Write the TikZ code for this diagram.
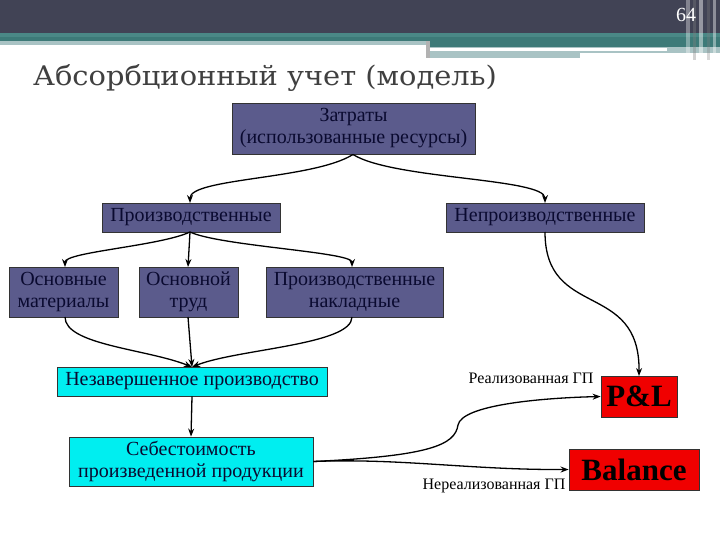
\documentclass[tikz,border=0pt]{standalone}
\usepackage{fontspec}
\setmainfont{Liberation Serif}
\newfontfamily\tnr{Liberation Serif}
\newfontfamily\ttl{DejaVu Serif}
\usetikzlibrary{arrows.meta}
\definecolor{hdark}{HTML}{414355}
\definecolor{hteal}{HTML}{4A8886}
\definecolor{hteald}{HTML}{3D7A78}
\definecolor{hlight}{HTML}{A9C3C4}
\definecolor{slate}{HTML}{5B5B8C}
\definecolor{navytext}{HTML}{0A0A30}
\definecolor{cyanbox}{HTML}{00EEF0}
\definecolor{redbox}{HTML}{F00000}
\definecolor{titlegray}{HTML}{404040}
\tikzset{
  bluebox/.style={draw=black!80, line width=0.8pt, fill=slate, text=navytext, align=center, inner sep=0pt, font=\tnr\fontsize{20}{22}\selectfont},
  cyanstyle/.style={draw=black!80, line width=0.8pt, fill=cyanbox, text=navytext, align=center, inner sep=0pt, font=\tnr\fontsize{20}{22}\selectfont},
  redstyle/.style={draw=black!80, line width=0.8pt, fill=redbox, text=black, align=center, inner sep=0pt, font=\tnr\fontsize{31}{33}\selectfont\bfseries},
  conn/.style={draw=black, line width=1.3pt, -{Stealth[length=8pt,width=6pt]}},
  lbl/.style={font=\tnr\fontsize{16}{18}\selectfont, text=black, inner sep=0pt}
}
\begin{document}
\begin{tikzpicture}[x=1pt,y=-1pt]
\useasboundingbox (0,0) rectangle (720,540);
\fill[white] (0,0) rectangle (720,540);
% header
\fill[hdark] (0,0) rectangle (720,33);
\fill[hteal] (0,33) rectangle (720,37);
\fill[hteald] (0,37) rectangle (720,41);
\fill[hlight] (0,41) rectangle (426,45);
\fill[hteald] (426,41) rectangle (720,47);
\fill[hlight] (426,47) rectangle (720,58);
\fill[white] (430,48.5) rectangle (667,51.5);
\fill[white] (580,53) rectangle (720,58);
\fill[gray!60] (426,41) rectangle (430,58);
\fill[white,opacity=0.35] (686,0) rectangle (690,60);
\fill[gray,opacity=0.35] (693,0) rectangle (696,60);
\fill[white,opacity=0.45] (699,0) rectangle (703,60);
\fill[gray,opacity=0.3] (707,0) rectangle (710,60);
\fill[white,opacity=0.4] (713,0) rectangle (716,60);
\node[text=white, font=\tnr\fontsize{20}{22}\selectfont, inner sep=0pt] (pg) at (686,15) {64};
% title
\node[anchor=west, text=titlegray, font=\ttl\fontsize{27}{30}\selectfont, inner sep=0pt] (title) at (33,78) {\scalebox{1.07}[1]{Абсорбционный учет (модель)}};
% boxes
\node[bluebox, minimum width=243pt, minimum height=51pt] (zat) at (353.5,128.5) {Затраты\\(использованные ресурсы)};
\node[bluebox, minimum width=178pt, minimum height=29pt] (prod) at (191,217.5) {Производственные};
\node[bluebox, minimum width=198pt, minimum height=29pt] (nprod) at (545,217.5) {Непроизводственные};
\node[bluebox, minimum width=109pt, minimum height=50pt] (mat) at (63.5,292) {Основные\\материалы};
\node[bluebox, minimum width=99pt, minimum height=50pt] (trud) at (188.5,292) {Основной\\труд};
\node[bluebox, minimum width=177pt, minimum height=50pt] (nakl) at (354.5,292) {Производственные\\накладные};
\node[cyanstyle, minimum width=270pt, minimum height=29pt] (nzp) at (192,381.5) {Незавершенное производство};
\node[cyanstyle, minimum width=244pt, minimum height=49pt] (seb) at (191,461.5) {Себестоимость\\произведенной продукции};
\node[redstyle, minimum width=76pt, minimum height=41pt] (pl) at (639,396.5) {P\&L};
\node[redstyle, minimum width=130pt, minimum height=41pt] (bal) at (634,469.5) {Balance};
% labels
\node[lbl] (lreal) at (531,378) {Реализованная ГП};
\node[lbl] (lnreal) at (494,486) {Нереализованная ГП};
% connectors
\coordinate (zs) at (353,154.5);
\coordinate (pn) at (190,203);
\coordinate (npn) at (545,203);
\draw[conn] (zs) .. controls +(-40,25) and +(0,-25) .. (pn);
\draw[conn] (zs) .. controls +(40,25) and +(0,-25) .. (npn);
\coordinate (ps) at (190,232);
\coordinate (mn) at (65,267);
\coordinate (tn) at (188,267);
\coordinate (kn) at (352,267);
\draw[conn] (ps) .. controls +(-30,14) and +(0,-15) .. (mn);
\draw[conn] (ps) -- (tn);
\draw[conn] (ps) .. controls +(30,14) and +(0,-15) .. (kn);
\coordinate (ms) at (65,317);
\coordinate (ts) at (188,317);
\coordinate (ks) at (352,317);
\coordinate (zn) at (192,367);
\draw[conn] (ms) .. controls +(0,28) and +(-45,-18) .. (zn);
\draw[conn] (ts) -- (zn);
\draw[conn] (ks) .. controls +(0,28) and +(45,-18) .. (zn);
\draw[conn] (nzp.south) -- (seb.north);
\draw[conn] (seb.east) .. controls (430,456) and (455,445) .. (458,425) .. controls (462,405) and (540,398) .. (pl.west);
\draw[conn] (seb.east) .. controls (400,458) and (470,470) .. (bal.west);
\coordinate (nps) at (545,232);
\coordinate (pln) at (639,376);
\draw[conn] (nps) .. controls (545,320) and (640,280) .. (pln);
\end{tikzpicture}
\end{document}
